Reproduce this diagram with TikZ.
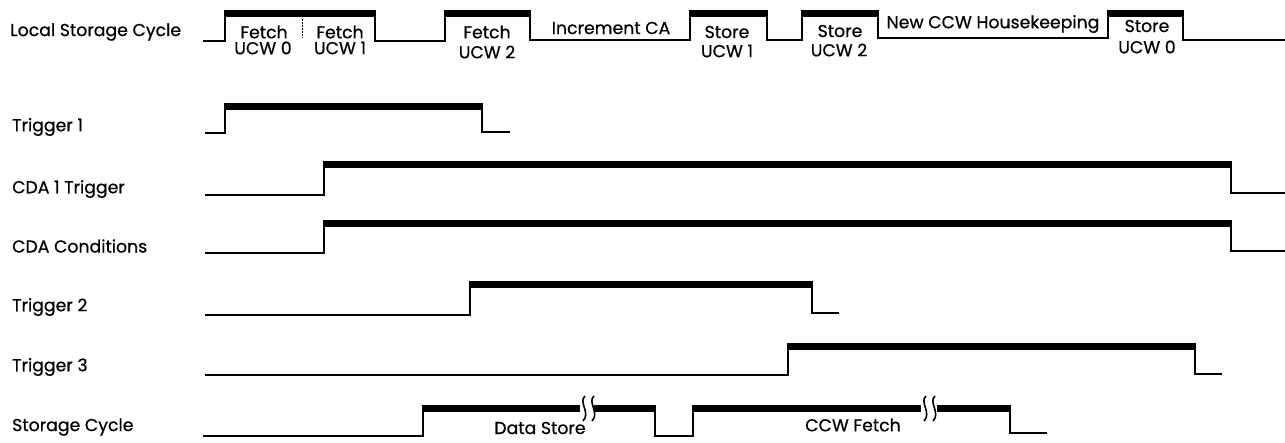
\documentclass[tikz,border=0pt]{standalone}
\usepackage{fontspec}
\setmainfont{Poppins}[FakeBold=0.6]
\begin{document}
\begin{tikzpicture}[x=1pt,y=-1pt,
  wave/.style={line width=1.8pt, line join=miter},
  hibar/.style={line width=7pt, line cap=butt},
  brk/.style={line width=1.6pt},
  lbl/.style={anchor=west, inner sep=0pt, font=\fontsize{17.3}{19}\selectfont},
  txt/.style={inner sep=0pt, font=\fontsize{17.3}{19}\selectfont}]
\useasboundingbox (0,0) rectangle (1285,442);

% ---------- labels ----------
\node[lbl] (lLSC) at (10,32) {Local Storage Cycle};
\node[lbl] (lT1) at (12,127) {Trigger 1};
\node[lbl] (lCDA1) at (12,189) {CDA 1 Trigger};
\node[lbl] (lCDAC) at (12,246) {CDA Conditions};
\node[lbl] (lT2) at (12,307) {Trigger 2};
\node[lbl] (lT3) at (12,367) {Trigger 3};
\node[lbl] (lSC) at (12,427) {Storage Cycle};

% ---------- Local Storage Cycle ----------
\draw[wave] (203,41) -- (225,41) -- (225,13) -- (375,13) -- (375,41) -- (445,41)
  -- (445,13) -- (530,13) -- (530,40) -- (690,40) -- (690,13) -- (767,13) -- (767,40)
  -- (802,40) -- (802,13) -- (878,13) -- (878,38) -- (1108,38) -- (1108,13) -- (1183,13)
  -- (1183,40) -- (1285,40);
\foreach \a/\b in {225/375,445/530,690/767,802/878,1108/1183}
  \draw[hibar] (\a-0.9,13) -- (\b+0.9,13);
\draw[line width=0.8pt, dash pattern=on 1.5pt off 1.5pt] (302,19) -- (302,38);
\node[txt] (f0) at (264,32) {Fetch};
\node[txt] (u0) at (263,48) {UCW 0};
\node[txt] (f1) at (340,32) {Fetch};
\node[txt] (u1) at (340,48) {UCW 1};
\node[txt] (f2) at (487,32) {Fetch};
\node[txt] (u2) at (487,52) {UCW 2};
\node[txt] (inc) at (611,28) {Increment CA};
\node[txt] (s1) at (727,32) {Store};
\node[txt] (su1) at (727,51) {UCW 1};
\node[txt] (s2) at (840,31) {Store};
\node[txt] (su2) at (839,50) {UCW 2};
\node[txt] (hk) at (993,24) {New CCW Housekeeping};
\node[txt] (s0) at (1147,26) {Store};
\node[txt] (su0) at (1147,47) {UCW 0};

% ---------- Trigger 1 ----------
\draw[wave] (205,133) -- (225,133) -- (225,106) -- (482,106) -- (482,132) -- (510,132);
\draw[hibar] (224.1,106) -- (482.9,106);

% ---------- CDA 1 Trigger ----------
\draw[wave] (205,195) -- (324,195) -- (324,164) -- (1231,164) -- (1231,193) -- (1285,193);
\draw[hibar] (323.1,164) -- (1231.9,164);

% ---------- CDA Conditions ----------
\draw[wave] (205,253) -- (324,253) -- (324,223) -- (1231,223) -- (1231,251) -- (1285,251);
\draw[hibar] (323.1,223) -- (1231.9,223);

% ---------- Trigger 2 ----------
\draw[wave] (205,315) -- (470,315) -- (470,284) -- (812,284) -- (812,313) -- (839,313);
\draw[hibar] (469.1,284) -- (812.9,284);

% ---------- Trigger 3 ----------
\draw[wave] (205,375) -- (788,375) -- (788,346) -- (1195,346) -- (1195,374) -- (1222,374);
\draw[hibar] (787.1,346) -- (1195.9,346);

% ---------- Storage Cycle ----------
\draw[wave] (203,436) -- (423,436) -- (423,408) -- (580,408);
\draw[hibar] (422.1,408) -- (580,408);
\draw[wave] (594,408) -- (655,408) -- (655,436) -- (693,436) -- (693,408) -- (921,408);
\draw[hibar] (594,408) -- (655.9,408);
\draw[hibar] (692.1,408) -- (921,408);
\draw[wave] (937,408) -- (1010,408) -- (1010,433) -- (1047,433);
\draw[hibar] (937,408) -- (1010.9,408);
\draw[brk] (585,396) .. controls (578,402) and (591,413) .. (583,421);
\draw[brk] (594,396) .. controls (587,402) and (600,413) .. (592,421);
\draw[brk] (926,396) .. controls (919,402) and (932,413) .. (924,421);
\draw[brk] (935,396) .. controls (928,402) and (941,413) .. (933,421);
\node[txt] (ds) at (540,428) {Data Store};
\node[txt] (cf) at (853,425) {CCW Fetch};
\end{tikzpicture}
\end{document}
